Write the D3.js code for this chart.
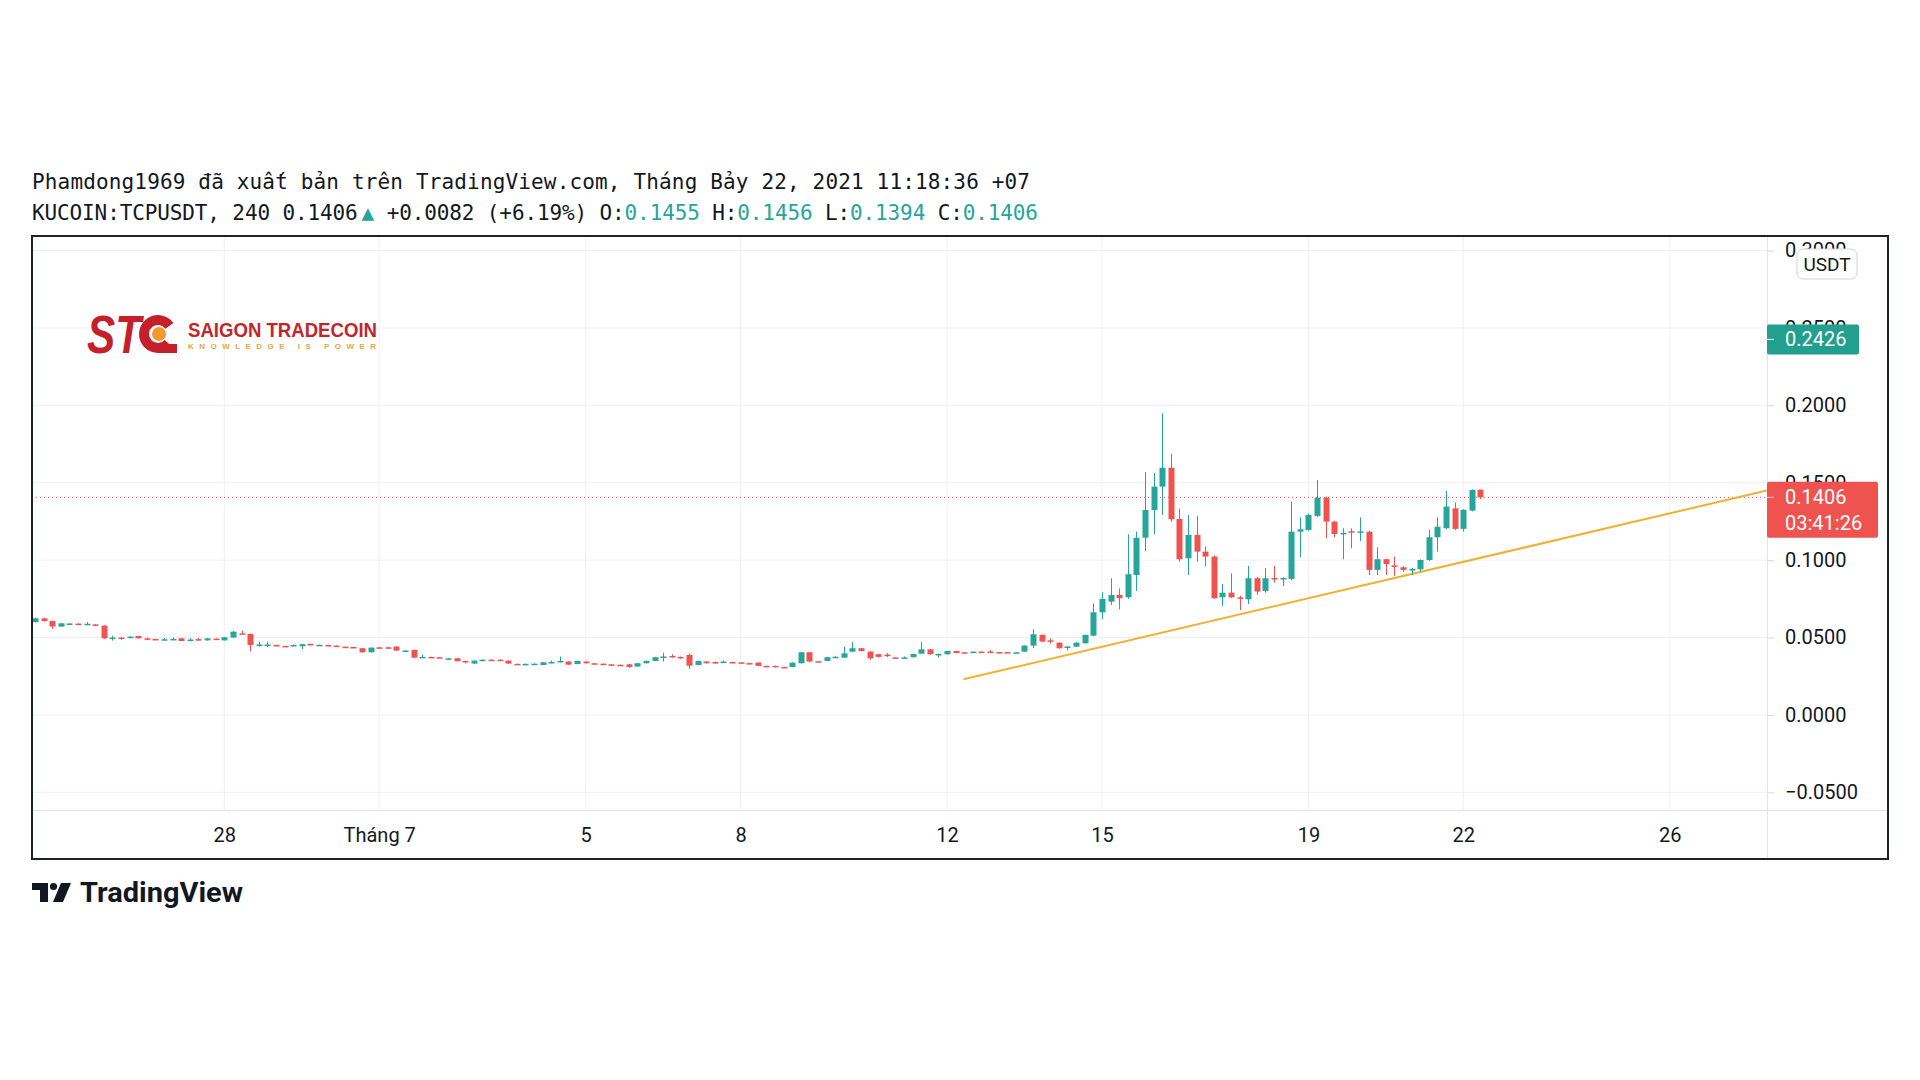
<!DOCTYPE html>
<html><head><meta charset="utf-8">
<script src="https://cdn.jsdelivr.net/npm/d3@7/dist/d3.min.js"></script>
<style>body{margin:0;background:#fff}svg{display:block}</style>
</head><body>
<svg id="c" width="1920" height="1080"></svg>
<script>
// ---------- data (times are UTC+7 wall-clock, stored as UTC) ----------
const firstBar = "2021-06-24T11:00:00Z";
const barHours = 4;
const open = [
0.0600,0.0624,0.0607,0.0571,0.0590,0.0590,0.0588,0.0585,0.0577,0.0495,
0.0500,0.0497,0.0510,0.0495,0.0491,0.0487,0.0489,0.0495,0.0480,0.0490,
0.0482,0.0493,0.0482,0.0500,0.0527,0.0523,0.0452,0.0452,0.0452,0.0446,
0.0446,0.0444,0.0459,0.0451,0.0452,0.0448,0.0441,0.0439,0.0431,0.0405,
0.0437,0.0437,0.0442,0.0413,0.0420,0.0372,0.0375,0.0373,0.0362,0.0366,
0.0349,0.0332,0.0355,0.0357,0.0357,0.0351,0.0330,0.0329,0.0327,0.0323,
0.0338,0.0340,0.0345,0.0329,0.0345,0.0334,0.0331,0.0327,0.0324,0.0327,
0.0313,0.0334,0.0349,0.0375,0.0381,0.0375,0.0388,0.0323,0.0345,0.0342,
0.0343,0.0342,0.0340,0.0335,0.0338,0.0317,0.0317,0.0310,0.0310,0.0334,
0.0405,0.0347,0.0349,0.0373,0.0370,0.0409,0.0431,0.0409,0.0392,0.0390,
0.0372,0.0370,0.0373,0.0396,0.0424,0.0392,0.0392,0.0413,0.0405,0.0408,
0.0409,0.0410,0.0406,0.0406,0.0404,0.0409,0.0448,0.0517,0.0482,0.0467,
0.0438,0.0441,0.0463,0.0512,0.0663,0.0732,0.0775,0.0760,0.0904,0.1145,
0.1324,0.1475,0.1597,0.1266,0.1012,0.1163,0.1055,0.1023,0.0760,0.0790,
0.0760,0.0747,0.0883,0.0801,0.0885,0.0879,0.0879,0.1184,0.1195,0.1286,
0.1404,0.1249,0.1172,0.1187,0.1182,0.1184,0.0937,0.1006,0.0966,0.0954,
0.0939,0.0941,0.1001,0.1148,0.1206,0.1335,0.1202,0.1320,0.1455];
const high = [
0.0628,0.0628,0.0609,0.0594,0.0593,0.0592,0.0600,0.0587,0.0579,0.0512,
0.0502,0.0508,0.0512,0.0500,0.0492,0.0497,0.0500,0.0497,0.0497,0.0497,
0.0497,0.0495,0.0504,0.0542,0.0545,0.0526,0.0474,0.0474,0.0454,0.0447,
0.0456,0.0459,0.0461,0.0454,0.0454,0.0450,0.0443,0.0440,0.0433,0.0437,
0.0439,0.0439,0.0444,0.0418,0.0422,0.0390,0.0377,0.0375,0.0368,0.0368,
0.0351,0.0353,0.0359,0.0359,0.0359,0.0353,0.0332,0.0332,0.0333,0.0342,
0.0352,0.0377,0.0347,0.0351,0.0347,0.0336,0.0333,0.0329,0.0326,0.0329,
0.0336,0.0351,0.0375,0.0402,0.0392,0.0377,0.0396,0.0351,0.0347,0.0345,
0.0352,0.0344,0.0342,0.0337,0.0340,0.0319,0.0319,0.0312,0.0340,0.0407,
0.0407,0.0349,0.0375,0.0380,0.0441,0.0471,0.0433,0.0411,0.0394,0.0400,
0.0374,0.0378,0.0396,0.0471,0.0426,0.0396,0.0415,0.0415,0.0407,0.0410,
0.0411,0.0420,0.0408,0.0407,0.0406,0.0450,0.0553,0.0520,0.0494,0.0470,
0.0446,0.0470,0.0519,0.0720,0.0793,0.0883,0.0818,0.1167,0.1184,0.1568,
0.1563,0.1949,0.1686,0.1333,0.1292,0.1286,0.1089,0.1030,0.0846,0.0915,
0.0770,0.0963,0.0890,0.0948,0.0963,0.0890,0.1378,0.1277,0.1300,0.1518,
0.1410,0.1255,0.1206,0.1206,0.1277,0.1190,0.1083,0.1010,0.1023,0.0960,
0.0950,0.1005,0.1195,0.1277,0.1447,0.1372,0.1330,0.1458,0.1456];
const low = [
0.0598,0.0604,0.0556,0.0569,0.0588,0.0586,0.0586,0.0575,0.0490,0.0480,
0.0485,0.0495,0.0493,0.0482,0.0485,0.0485,0.0486,0.0476,0.0475,0.0478,
0.0480,0.0486,0.0480,0.0498,0.0521,0.0409,0.0441,0.0437,0.0444,0.0442,
0.0444,0.0426,0.0450,0.0450,0.0449,0.0439,0.0437,0.0433,0.0403,0.0403,
0.0433,0.0433,0.0414,0.0411,0.0368,0.0368,0.0370,0.0368,0.0358,0.0345,
0.0332,0.0330,0.0353,0.0353,0.0351,0.0330,0.0327,0.0327,0.0325,0.0321,
0.0334,0.0338,0.0323,0.0327,0.0332,0.0331,0.0327,0.0323,0.0321,0.0305,
0.0311,0.0332,0.0347,0.0345,0.0371,0.0362,0.0297,0.0320,0.0332,0.0330,
0.0338,0.0336,0.0337,0.0332,0.0315,0.0314,0.0308,0.0307,0.0308,0.0332,
0.0340,0.0344,0.0347,0.0370,0.0368,0.0407,0.0411,0.0357,0.0371,0.0373,
0.0368,0.0365,0.0371,0.0394,0.0390,0.0370,0.0390,0.0398,0.0402,0.0406,
0.0406,0.0400,0.0403,0.0403,0.0402,0.0407,0.0431,0.0470,0.0461,0.0428,
0.0416,0.0439,0.0461,0.0508,0.0618,0.0711,0.0682,0.0750,0.0801,0.1059,
0.1168,0.1292,0.1249,0.0990,0.0904,0.0991,0.0960,0.0750,0.0704,0.0755,
0.0678,0.0717,0.0775,0.0790,0.0855,0.0833,0.0870,0.1019,0.1190,0.1280,
0.1141,0.1148,0.1006,0.1077,0.1124,0.0904,0.0904,0.0904,0.0898,0.0925,
0.0904,0.0925,0.0995,0.1055,0.1200,0.1195,0.1184,0.1315,0.1394];
const close = [
0.0624,0.0607,0.0571,0.0592,0.0591,0.0588,0.0589,0.0577,0.0495,0.0500,
0.0495,0.0506,0.0495,0.0491,0.0487,0.0489,0.0491,0.0478,0.0487,0.0487,
0.0495,0.0489,0.0502,0.0538,0.0523,0.0452,0.0455,0.0455,0.0448,0.0444,
0.0452,0.0457,0.0452,0.0453,0.0450,0.0441,0.0439,0.0435,0.0405,0.0435,
0.0435,0.0435,0.0416,0.0416,0.0370,0.0375,0.0373,0.0370,0.0366,0.0347,
0.0345,0.0351,0.0357,0.0355,0.0353,0.0332,0.0329,0.0330,0.0331,0.0340,
0.0342,0.0349,0.0325,0.0349,0.0334,0.0333,0.0329,0.0325,0.0323,0.0310,
0.0334,0.0349,0.0373,0.0378,0.0373,0.0371,0.0318,0.0349,0.0334,0.0338,
0.0345,0.0338,0.0339,0.0334,0.0317,0.0316,0.0310,0.0309,0.0338,0.0405,
0.0345,0.0346,0.0373,0.0376,0.0398,0.0431,0.0413,0.0366,0.0375,0.0380,
0.0370,0.0372,0.0394,0.0424,0.0392,0.0394,0.0413,0.0400,0.0404,0.0409,
0.0408,0.0408,0.0405,0.0404,0.0405,0.0448,0.0521,0.0474,0.0478,0.0431,
0.0442,0.0467,0.0517,0.0663,0.0749,0.0775,0.0754,0.0909,0.1145,0.1324,
0.1475,0.1597,0.1264,0.1006,0.1163,0.1055,0.1023,0.0754,0.0790,0.0760,
0.0757,0.0883,0.0797,0.0883,0.0881,0.0885,0.1184,0.1199,0.1292,0.1404,
0.1249,0.1169,0.1176,0.1183,0.1186,0.0937,0.1006,0.0975,0.0960,0.0937,
0.0943,0.1001,0.1148,0.1216,0.1346,0.1202,0.1324,0.1453,0.1406];

const priceTicks = [-0.05, 0, 0.05, 0.10, 0.15, 0.20, 0.25, 0.30];
const dateTicks = ["2021-06-28T03:00:00Z","2021-07-01T03:00:00Z","2021-07-05T03:00:00Z",
  "2021-07-08T03:00:00Z","2021-07-12T03:00:00Z","2021-07-15T03:00:00Z",
  "2021-07-19T03:00:00Z","2021-07-22T03:00:00Z","2021-07-26T03:00:00Z"];
const dateTickLabels = ["28","Tháng 7","5","8","12","15","19","22","26"];
const viewStart = "2021-06-24T09:36:00Z", viewEnd = "2021-07-28T00:12:00Z";
const priceMin = -0.0614, priceMax = 0.3094;
const trendTimes = ["2021-07-12T10:36:00Z", "2021-07-28T00:12:00Z"];
const trendPrices = [0.0230, 0.1450];
const markerPrice = 0.2426;
const countdown = "03:41:26";
const headerLine1 = "Phamdong1969 đã xuất bản trên TradingView.com, Tháng Bảy 22, 2021 11:18:36 +07";
const symbolText = "KUCOIN:TCPUSDT, 240";
const changeText = "+0.0082 (+6.19%)";

// ---------- layout ----------
const UP = "#26a69a", DOWN = "#ef5350", GRID = "#eef0f4", TEXT = "#131722";
const L = 32, T = 236, R = 1767, B = 810, BOXR = 1888, BOXB = 859;
const svg = d3.select("#c");
const t0 = Date.parse(firstBar), step = barHours * 3600e3;
const bars = open.map((o, i) => ({t: new Date(t0 + i * step), o, h: high[i], l: low[i], c: close[i]}));

const x = d3.scaleUtc().domain([new Date(viewStart), new Date(viewEnd)]).range([L, R]);
const y = d3.scaleLinear().domain([priceMin, priceMax]).range([B, T]);

svg.append("rect").attr("width", 1920).attr("height", 1080).attr("fill", "#fff");

// header
const hdr = svg.append("g").attr("font-family", "'DejaVu Sans Mono', monospace").attr("font-size", 21).attr("fill", TEXT);
hdr.append("text").attr("x", L).attr("y", 189).attr("textLength", 998).attr("lengthAdjust", "spacing").text(headerLine1);
const last = bars[bars.length - 1];
const f4 = d3.format(".4f");
const l2 = hdr.append("text").attr("x", L).attr("y", 220).attr("textLength", 1006).attr("lengthAdjust", "spacing");
l2.append("tspan").text(symbolText + " " + f4(last.c));
l2.append("tspan").attr("fill", UP).attr("dx", 4).text("▲");
l2.append("tspan").text(" " + changeText + " O:");
l2.append("tspan").attr("fill", UP).text(f4(last.o));
l2.append("tspan").text(" H:");
l2.append("tspan").attr("fill", UP).text(f4(last.h));
l2.append("tspan").text(" L:");
l2.append("tspan").attr("fill", UP).text(f4(last.l));
l2.append("tspan").text(" C:");
l2.append("tspan").attr("fill", UP).text(f4(last.c));

// grid
const dTicks = dateTicks.map(d => new Date(d));
svg.append("g").selectAll("line").data(priceTicks).join("line")
  .attr("x1", L).attr("x2", R).attr("y1", d => y(d)).attr("y2", d => y(d))
  .attr("stroke", GRID).attr("stroke-width", 1);
svg.append("g").selectAll("line").data(dTicks).join("line")
  .attr("x1", d => x(d)).attr("x2", d => x(d)).attr("y1", T).attr("y2", B)
  .attr("stroke", GRID).attr("stroke-width", 1);

// logo STC
const logo = svg.append("g");
logo.append("text").attr("x", 87).attr("y", 353).attr("font-family", "'Liberation Sans', Arial, sans-serif")
  .attr("font-weight", 700).attr("font-style", "italic").attr("font-size", 53)
  .attr("textLength", 54).attr("lengthAdjust", "spacingAndGlyphs").attr("fill", "#c41f2b").text("ST");
logo.append("path").attr("transform", "translate(158,334)")
  .attr("d", d3.arc().innerRadius(9).outerRadius(19).startAngle(2.3).endAngle(2 * Math.PI + 0.95)())
  .attr("fill", "#c41f2b");
logo.append("rect").attr("x", 158).attr("y", 344).attr("width", 19).attr("height", 9).attr("fill", "#c41f2b");
logo.append("circle").attr("cx", 159).attr("cy", 334).attr("r", 7).attr("fill", "#f29a2e");
logo.append("text").attr("x", 188).attr("y", 337).attr("font-family", "'Liberation Sans', Arial, sans-serif")
  .attr("font-weight", 700).attr("font-size", 20).attr("textLength", 189).attr("lengthAdjust", "spacingAndGlyphs")
  .attr("fill", "#c0272d").text("SAIGON TRADECOIN");
logo.append("text").attr("x", 188).attr("y", 349).attr("font-family", "'Liberation Sans', Arial, sans-serif")
  .attr("font-weight", 700).attr("font-size", 8).attr("textLength", 188).attr("lengthAdjust", "spacing")
  .attr("fill", "#eaa640").text("KNOWLEDGE IS POWER");

// plot clip
svg.append("clipPath").attr("id", "plot").append("rect").attr("x", L).attr("y", T).attr("width", R - L).attr("height", B - T);
const plot = svg.append("g").attr("clip-path", "url(#plot)");

// current price dotted line
plot.append("line").attr("x1", L).attr("x2", R).attr("y1", y(last.c)).attr("y2", y(last.c))
  .attr("stroke", DOWN).attr("stroke-width", 1).attr("stroke-dasharray", "1,3");

// trend line
const tl = trendTimes.map((t, i) => [new Date(t), trendPrices[i]]);
plot.append("path").datum(tl)
  .attr("d", d3.line().x(d => x(d[0])).y(d => y(d[1])))
  .attr("stroke", "#f0b030").attr("stroke-width", 2).attr("fill", "none");

// candles
const col = d => d.c >= d.o ? UP : DOWN;
const cg = plot.append("g");
cg.selectAll("line").data(bars).join("line")
  .attr("x1", d => Math.round(x(d.t)) + 0.5).attr("x2", d => Math.round(x(d.t)) + 0.5)
  .attr("y1", d => y(d.h)).attr("y2", d => y(d.l)).attr("stroke", col).attr("stroke-width", 1);
cg.selectAll("rect").data(bars).join("rect")
  .attr("x", d => Math.round(x(d.t)) - 2.5).attr("width", 6)
  .attr("y", d => y(Math.max(d.o, d.c)))
  .attr("height", d => Math.max(1.5, Math.abs(y(d.o) - y(d.c))))
  .attr("fill", col);

// axes
const yAxis = svg.append("g").attr("transform", `translate(${R},0)`)
  .call(d3.axisRight(y).tickValues(priceTicks).tickFormat(f4).tickSize(7).tickPadding(11));
yAxis.select(".domain").remove();
yAxis.selectAll("line").attr("stroke", "#d6d8de");
yAxis.selectAll("text").attr("font-family", "Roboto, sans-serif").attr("font-size", 20).attr("fill", TEXT);

const xAxis = svg.append("g").attr("transform", `translate(0,${B})`)
  .call(d3.axisBottom(x).tickValues(dTicks).tickFormat((d, i) => dateTickLabels[i]).tickSize(0).tickPadding(18));
xAxis.select(".domain").remove();
xAxis.selectAll("text").attr("font-family", "Roboto, sans-serif").attr("font-size", 20).attr("fill", TEXT);

// separators and frame
svg.append("line").attr("x1", L).attr("x2", BOXR).attr("y1", B + 0.5).attr("y2", B + 0.5).attr("stroke", "#e0e3eb");
svg.append("line").attr("x1", R + 0.5).attr("x2", R + 0.5).attr("y1", T).attr("y2", BOXB).attr("stroke", "#e0e3eb");

// USDT badge
svg.append("rect").attr("x", 1797).attr("y", 249).attr("width", 60).attr("height", 30).attr("rx", 6)
  .attr("fill", "#fff").attr("stroke", "#d1d4dc");
svg.append("text").attr("x", 1827).attr("y", 264).attr("dy", "0.35em").attr("text-anchor", "middle")
  .attr("font-family", "Roboto, sans-serif").attr("font-size", 19).attr("fill", TEXT).text("USDT");

// marker label
const ym = y(markerPrice);
svg.append("rect").attr("x", R).attr("y", ym - 15).attr("width", 92).attr("height", 30).attr("rx", 2).attr("fill", "#22a08d");
svg.append("line").attr("x1", R).attr("x2", R + 7).attr("y1", ym).attr("y2", ym).attr("stroke", "#fff");
svg.append("text").attr("x", R + 18).attr("y", ym).attr("dy", "0.35em").attr("font-family", "Roboto, sans-serif")
  .attr("font-size", 20).attr("fill", "#fff").text(f4(markerPrice));

// last price label
const yl = y(last.c);
svg.append("rect").attr("x", R).attr("y", yl - 15.5).attr("width", 111).attr("height", 56).attr("rx", 2).attr("fill", DOWN);
svg.append("line").attr("x1", R).attr("x2", R + 7).attr("y1", yl).attr("y2", yl).attr("stroke", "#fbd");
svg.append("text").attr("x", R + 18).attr("y", yl).attr("dy", "0.35em").attr("font-family", "Roboto, sans-serif")
  .attr("font-size", 20).attr("fill", "#fff").text(f4(last.c));
svg.append("text").attr("x", R + 18).attr("y", yl + 26).attr("dy", "0.35em").attr("font-family", "Roboto, sans-serif")
  .attr("font-size", 20).attr("fill", "#fff").text(countdown);

// frame
svg.append("rect").attr("x", L).attr("y", T).attr("width", BOXR - L).attr("height", BOXB - T)
  .attr("fill", "none").attr("stroke", "#1e222d").attr("stroke-width", 2);

// footer TradingView logo
const tv = svg.append("g").attr("fill", TEXT);
tv.append("path").attr("d", "M32,883H48V902H40V890H32Z");
tv.append("circle").attr("cx", 53.5).attr("cy", 886.5).attr("r", 3.6);
tv.append("path").attr("d", "M61,883H71L63,902H53Z");
tv.append("text").attr("x", 80).attr("y", 902).attr("font-family", "Roboto, sans-serif").attr("font-weight", 700)
  .attr("font-size", 28).attr("textLength", 163).attr("lengthAdjust", "spacingAndGlyphs").text("TradingView");
</script>
</body></html>
